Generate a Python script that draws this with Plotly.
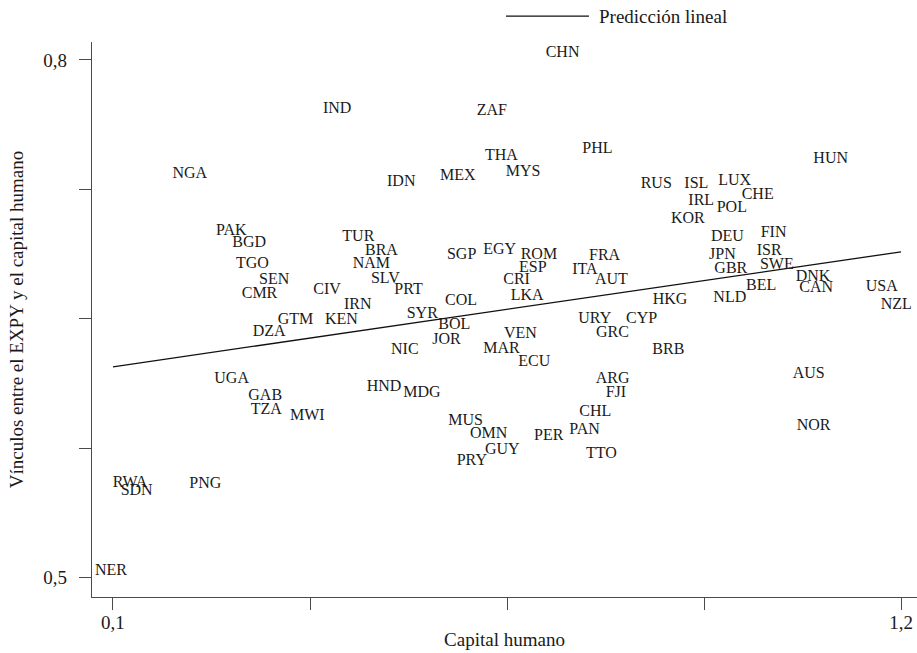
import plotly.graph_objects as go

# Country codes
countries = ["IND", "NGA", "IDN", "MEX", "PAK", "BGD", "TGO", "SEN", "CMR", "CIV",
             "TUR", "BRA", "NAM", "SLV", "PRT", "IRN", "GTM", "KEN", "SYR", "SGP",
             "COL", "DZA", "NIC", "JOR", "BOL", "UGA", "GAB", "TZA", "MWI", "HND",
             "MDG", "RWA", "SDN", "PNG", "NER", "CHN", "ZAF", "THA", "MYS", "PHL",
             "EGY", "ROM", "ESP", "CRI", "LKA", "FRA", "ITA", "AUT", "VEN", "MAR",
             "ECU", "URY", "GRC", "ARG", "FJI", "CHL", "PAN", "TTO", "PER", "MUS",
             "OMN", "GUY", "PRY", "HUN", "RUS", "ISL", "LUX", "CHE", "IRL", "POL",
             "KOR", "DEU", "FIN", "JPN", "ISR", "GBR", "SWE", "DNK", "BEL", "CAN",
             "USA", "NZL", "HKG", "NLD", "CYP", "BRB", "AUS", "NOR"]

# Capital humano
capital_humano = [0.393, 0.183, 0.4825, 0.5565, 0.2438, 0.2665, 0.2717, 0.3038, 0.2797, 0.3796,
                  0.4201, 0.4518, 0.4346, 0.4601, 0.4927, 0.4225, 0.3299, 0.3959, 0.5100, 0.5662,
                  0.5634, 0.2950, 0.4881, 0.5457, 0.5541, 0.2414, 0.2889, 0.2922, 0.3471, 0.4541,
                  0.5052, 0.0996, 0.1107, 0.2065, 0.0749, 0.7040, 0.6077, 0.6193, 0.6482, 0.7551,
                  0.6169, 0.6691, 0.6667, 0.6448, 0.6551, 0.7645, 0.7411, 0.7728, 0.6458, 0.6169,
                  0.6658, 0.7495, 0.7742, 0.7738, 0.7878, 0.7509, 0.7370, 0.7603, 0.6877, 0.5680,
                  0.5983, 0.6193, 0.5798, 1.0776, 0.8366, 0.8975, 0.9449, 0.9776, 0.9031, 0.9427,
                  0.8789, 0.9347, 1.0041, 0.9320, 0.9985, 0.9394, 1.0031, 1.0530, 0.9836, 1.0580,
                  1.1507, 1.1716, 0.8534, 0.9380, 0.8161, 0.8528, 1.0488, 1.0544]

# Vínculos entre el EXPY y el capital humano
vinculos = [0.7718, 0.7340, 0.7295, 0.7328, 0.7011, 0.6941, 0.6819, 0.6727, 0.6646, 0.6669,
            0.6976, 0.6894, 0.6819, 0.6732, 0.6665, 0.6578, 0.6496, 0.6491, 0.6530, 0.6867,
            0.6602, 0.6422, 0.6321, 0.6379, 0.6462, 0.6153, 0.6050, 0.5969, 0.5939, 0.6107,
            0.6072, 0.5546, 0.5501, 0.5545, 0.5039, 0.8040, 0.7703, 0.7441, 0.7350, 0.7486,
            0.6901, 0.6872, 0.6796, 0.6723, 0.6630, 0.6864, 0.6781, 0.6727, 0.6414, 0.6325,
            0.6249, 0.6501, 0.6420, 0.6153, 0.6072, 0.5962, 0.5857, 0.5718, 0.5823, 0.5906,
            0.5830, 0.5737, 0.5674, 0.7428, 0.7283, 0.7283, 0.7296, 0.7219, 0.7180, 0.7142,
            0.7076, 0.6974, 0.6997, 0.6872, 0.6891, 0.6786, 0.6810, 0.6742, 0.6690, 0.6680,
            0.6684, 0.6582, 0.6611, 0.6621, 0.6501, 0.6321, 0.6182, 0.5879]

# Predicción lineal (end points)
fit_x = [0.1, 1.2]
fit_y = [0.6222, 0.6888]

x_tickvals = [0.1, 0.375, 0.65, 0.925, 1.2]
x_ticktext = ["0,1", "", "", "", "1,2"]
y_tickvals = [0.5, 0.575, 0.65, 0.725, 0.8]
y_ticktext = ["0,5", "", "", "", "0,8"]

FONT = "Liberation Serif, Times New Roman, serif"
TXT = "#1a1a1a"
AX = "#4a4a4a"

fig = go.Figure()
fig.add_trace(go.Scatter(
    x=fit_x, y=fit_y, mode="lines",
    line=dict(color="#111111", width=1.3),
    name="Predicción lineal", showlegend=False, hoverinfo="skip"))
fig.add_trace(go.Scatter(
    x=capital_humano, y=vinculos, mode="text", text=countries,
    textposition="middle right",
    textfont=dict(family=FONT, size=16, color=TXT),
    showlegend=False))

# legend drawn as a line sample and its label
fig.add_shape(type="line", xref="paper", yref="paper",
              x0=0.5018, x1=0.6024, y0=1.0468, y1=1.0468,
              line=dict(color="#111111", width=1.3))
fig.add_annotation(xref="paper", yref="paper", x=0.6121, y=1.0468,
                   text="Predicción lineal", showarrow=False,
                   xanchor="left", yanchor="middle",
                   font=dict(family=FONT, size=19, color=TXT))

fig.update_layout(
    width=917, height=653,
    margin=dict(l=92, r=0, t=42, b=56),
    paper_bgcolor="white", plot_bgcolor="white",
    font=dict(family=FONT, color=TXT, size=19),
    xaxis=dict(range=[0.0707, 1.2223], tickvals=x_tickvals, ticktext=x_ticktext,
               showgrid=False, zeroline=False, showline=True, linecolor=AX, linewidth=1.3,
               ticks="outside", ticklen=12, tickcolor=AX, tickwidth=1.3,
               ticklabelstandoff=-4, automargin=False,
               tickfont=dict(family=FONT, size=19, color=TXT),
               title=dict(text="Capital humano", font=dict(family=FONT, size=19, color=TXT),
                          standoff=0)),
    yaxis=dict(range=[0.4888, 0.8104], tickvals=y_tickvals, ticktext=y_ticktext,
               showgrid=False, zeroline=False, showline=True, linecolor=AX, linewidth=1.3,
               ticks="outside", ticklen=12, tickcolor=AX, tickwidth=1.3,
               ticklabelstandoff=8, automargin=False,
               tickfont=dict(family=FONT, size=19, color=TXT),
               title=dict(text="Vínculos entre el EXPY y el capital humano",
                          font=dict(family=FONT, size=19, color=TXT), standoff=14)),
)

fig.write_html("out.html", config={"displayModeBar": False},
               post_script="document.body.style.margin='0';")
